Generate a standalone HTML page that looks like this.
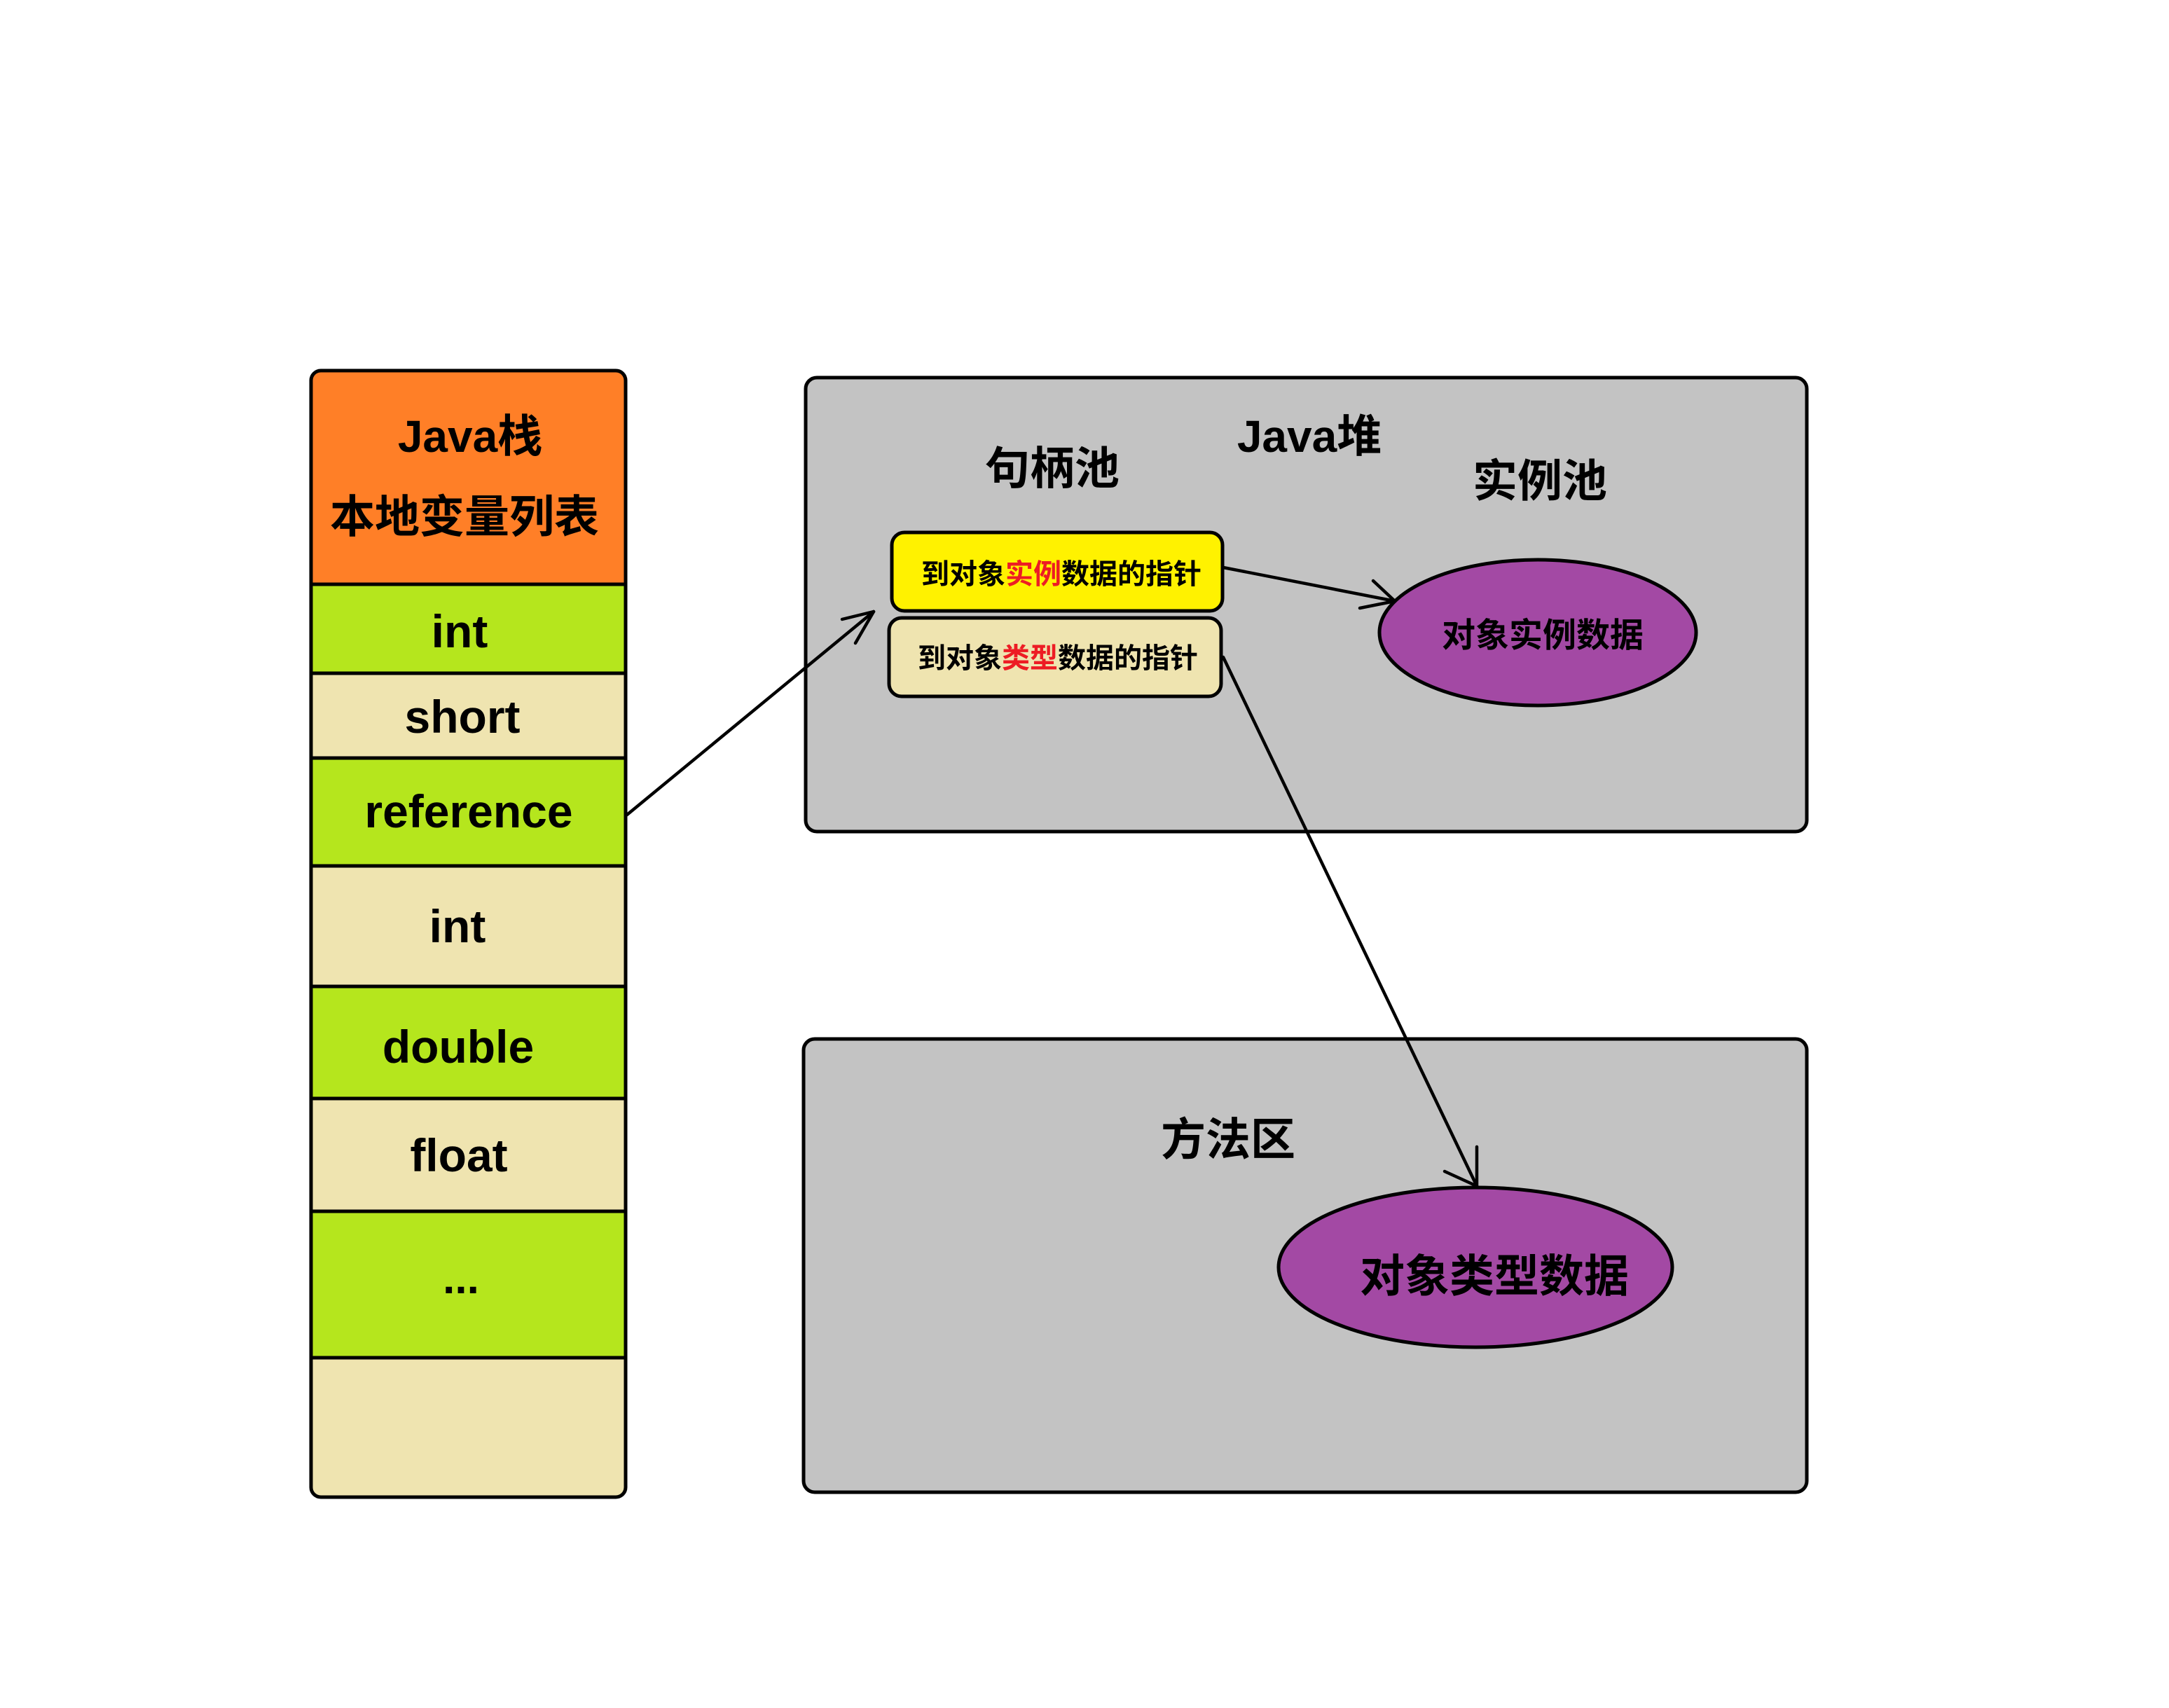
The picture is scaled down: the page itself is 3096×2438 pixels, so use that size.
<!DOCTYPE html>
<html>
<head>
<meta charset="utf-8">
<style>
  html, body { margin: 0; padding: 0; background: #ffffff; }
  svg { display: block; }
  text { font-family: "Liberation Sans", "Noto Sans CJK SC", sans-serif; font-weight: bold; fill: #000; }
</style>
</head>
<body>
<svg width="3096" height="2438" viewBox="0 0 3096 2438" xmlns="http://www.w3.org/2000/svg">
  <rect x="0" y="0" width="3096" height="2438" fill="#ffffff"/>

  <!-- Java stack -->
  <defs>
    <clipPath id="stackclip">
      <rect x="444" y="529" width="449" height="1608" rx="14" ry="14"/>
    </clipPath>
  </defs>
  <g clip-path="url(#stackclip)">
    <rect x="444" y="529" width="449" height="305" fill="#FF7F27"/>
    <rect x="444" y="834" width="449" height="127" fill="#B5E61D"/>
    <rect x="444" y="961" width="449" height="121" fill="#EFE4B0"/>
    <rect x="444" y="1082" width="449" height="154" fill="#B5E61D"/>
    <rect x="444" y="1236" width="449" height="172" fill="#EFE4B0"/>
    <rect x="444" y="1408" width="449" height="160" fill="#B5E61D"/>
    <rect x="444" y="1568" width="449" height="161" fill="#EFE4B0"/>
    <rect x="444" y="1729" width="449" height="209" fill="#B5E61D"/>
    <rect x="444" y="1938" width="449" height="199" fill="#EFE4B0"/>
  </g>
  <g stroke="#000" stroke-width="5">
    <line x1="444" y1="834" x2="893" y2="834"/>
    <line x1="444" y1="961" x2="893" y2="961"/>
    <line x1="444" y1="1082" x2="893" y2="1082"/>
    <line x1="444" y1="1236" x2="893" y2="1236"/>
    <line x1="444" y1="1408" x2="893" y2="1408"/>
    <line x1="444" y1="1568" x2="893" y2="1568"/>
    <line x1="444" y1="1729" x2="893" y2="1729"/>
    <line x1="444" y1="1938" x2="893" y2="1938"/>
  </g>
  <rect x="444" y="529" width="449" height="1608" rx="14" ry="14" fill="none" stroke="#000" stroke-width="5"/>

  <text x="671" y="645" font-size="64" text-anchor="middle">Java栈</text>
  <text x="663" y="760" font-size="64" text-anchor="middle">本地变量列表</text>
  <text x="656" y="924" font-size="66" text-anchor="middle">int</text>
  <text x="660" y="1046" font-size="66" text-anchor="middle">short</text>
  <text x="669" y="1181" font-size="66" text-anchor="middle">reference</text>
  <text x="653" y="1345" font-size="66" text-anchor="middle">int</text>
  <text x="654" y="1517" font-size="66" text-anchor="middle">double</text>
  <text x="655" y="1672" font-size="66" text-anchor="middle">float</text>
  <text x="658" y="1846" font-size="62" text-anchor="middle">...</text>

  <!-- Java heap -->
  <rect x="1150" y="539" width="1429" height="648" rx="16" ry="16" fill="#C3C3C3" stroke="#000" stroke-width="5"/>
  <text x="1869" y="645" font-size="64" text-anchor="middle">Java堆</text>
  <text x="1502" y="691" font-size="64" text-anchor="middle">句柄池</text>
  <text x="2198" y="709" font-size="64" text-anchor="middle">实例池</text>

  <rect x="1273" y="760" width="472" height="112" rx="18" ry="18" fill="#FFF200" stroke="#000" stroke-width="5"/>
  <text x="1515" y="833" font-size="40" text-anchor="middle">到对象<tspan fill="#ED1C24">实例</tspan>数据的指针</text>

  <rect x="1269" y="882" width="474" height="112" rx="18" ry="18" fill="#EFE4B0" stroke="#000" stroke-width="5"/>
  <text x="1510" y="953" font-size="40" text-anchor="middle">到对象<tspan fill="#ED1C24">类型</tspan>数据的指针</text>

  <ellipse cx="2195" cy="903" rx="226" ry="104" fill="#A349A4" stroke="#000" stroke-width="5"/>
  <text x="2202" y="923" font-size="48" text-anchor="middle">对象实例数据</text>

  <!-- Method area -->
  <rect x="1147" y="1483" width="1432" height="647" rx="16" ry="16" fill="#C3C3C3" stroke="#000" stroke-width="5"/>
  <text x="1753" y="1649" font-size="64" text-anchor="middle">方法区</text>
  <ellipse cx="2106" cy="1809" rx="281" ry="114" fill="#A349A4" stroke="#000" stroke-width="5"/>
  <text x="2133" y="1844" font-size="64" text-anchor="middle">对象类型数据</text>

  <!-- Arrows -->
  <g stroke="#000" stroke-width="4.5" stroke-linecap="round" fill="none">
    <line x1="895" y1="1163" x2="1247" y2="873"/>
    <line x1="1202" y1="884" x2="1247" y2="873"/>
    <line x1="1221" y1="918" x2="1247" y2="873"/>

    <line x1="1746" y1="810" x2="1991" y2="858"/>
    <line x1="1960" y1="829" x2="1991" y2="858"/>
    <line x1="1941" y1="868" x2="1991" y2="858"/>

    <line x1="1746" y1="938" x2="2108" y2="1693"/>
    <line x1="2062" y1="1672" x2="2108" y2="1693"/>
    <line x1="2108" y1="1637" x2="2108" y2="1693"/>
  </g>
</svg>
</body>
</html>
